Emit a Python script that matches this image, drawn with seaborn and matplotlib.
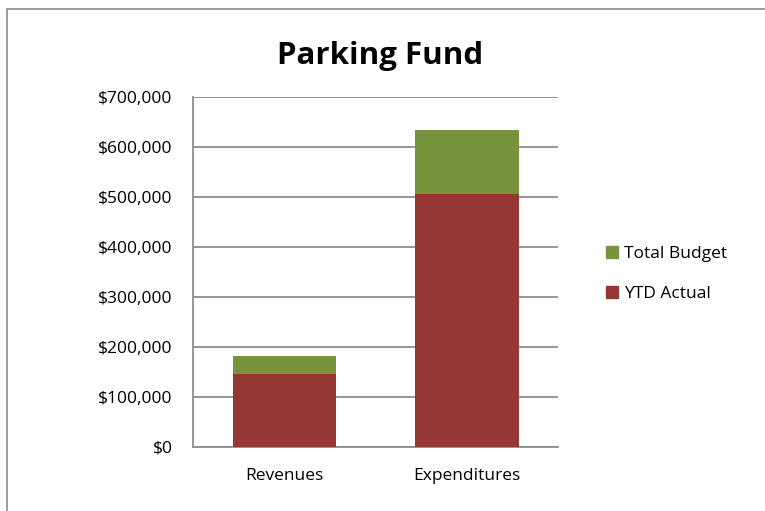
import matplotlib
matplotlib.use("Agg")
import matplotlib.pyplot as plt
import seaborn as sns
import pandas as pd
from matplotlib.ticker import FuncFormatter, FixedLocator
from matplotlib.patches import Rectangle, Patch

# data
categories = ["Revenues", "Expenditures"]
total_budget = [182000, 634000]
ytd_actual = [145000, 507000]

GREEN = "#77933C"
RED = "#953735"
GRID = "#8c8c8c"

sns.set_style("white")
plt.rcParams["font.family"] = ["Open Sans", "DejaVu Sans"]
plt.rcParams["text.color"] = "black"
plt.rcParams["xtick.labelcolor"] = "black"
plt.rcParams["ytick.labelcolor"] = "black"

df = pd.DataFrame({"cat": categories, "budget": total_budget, "actual": ytd_actual})

fig = plt.figure(figsize=(7.65, 5.11), dpi=100)
ax = fig.add_axes([0.2527, 0.1258, 0.7298 - 0.2527, 0.8096 - 0.1258])

# budget drawn full height, actual on top of it
sns.barplot(data=df, x="cat", y="budget", color=GREEN, width=0.566,
            saturation=1, linewidth=0, ax=ax, zorder=3)
sns.barplot(data=df, x="cat", y="actual", color=RED, width=0.566,
            saturation=1, linewidth=0, ax=ax, zorder=4)

ax.set_xlim(-0.5, 1.5)
ax.set_ylim(0, 700000)
ax.set_yticks(range(0, 700001, 100000))
ax.yaxis.set_major_formatter(FuncFormatter(lambda v, p: f"${v:,.0f}"))
ax.grid(axis="y", color=GRID, linewidth=1.3, zorder=0)
ax.set_axisbelow(True)

ax.xaxis.set_minor_locator(FixedLocator([-0.5, 0.5, 1.5]))
ax.tick_params(axis="x", which="major", length=0, pad=15, labelsize=12.5,
               labelcolor="black")
ax.tick_params(axis="x", which="minor", length=4, color=GRID, width=1.3, direction="out")
ax.tick_params(axis="y", length=4, color=GRID, width=1.3, direction="out",
               labelsize=12.5, pad=11, labelcolor="black")
ax.set_xlabel("")
ax.set_ylabel("")

for s in ["top", "right"]:
    ax.spines[s].set_visible(False)
for s in ["left", "bottom"]:
    ax.spines[s].set_color(GRID)
    ax.spines[s].set_linewidth(1.3)

fig.text(0.497, 1 - 64.3 / 511, "Parking Fund", ha="center", va="baseline",
         fontsize=22.5, fontweight="bold", color="black")

handles = [Patch(color=GREEN, label="Total Budget"), Patch(color=RED, label="YTD Actual")]
fig.legend(handles=handles, loc="center left", bbox_to_anchor=(606 / 765, 1 - 274 / 511),
           frameon=False, fontsize=12.5, handlelength=0.7, handleheight=0.7,
           handletextpad=0.35, labelspacing=1.4, borderpad=0, borderaxespad=0,
           labelcolor="black")

# outer chart border
fig.patches.append(Rectangle((7 / 765, -0.01), 1.0, 1 - 9 / 511 + 0.01,
                             transform=fig.transFigure, fill=False,
                             edgecolor="#8c8c8c", linewidth=1.2))

fig.savefig("out.png", dpi=100)
